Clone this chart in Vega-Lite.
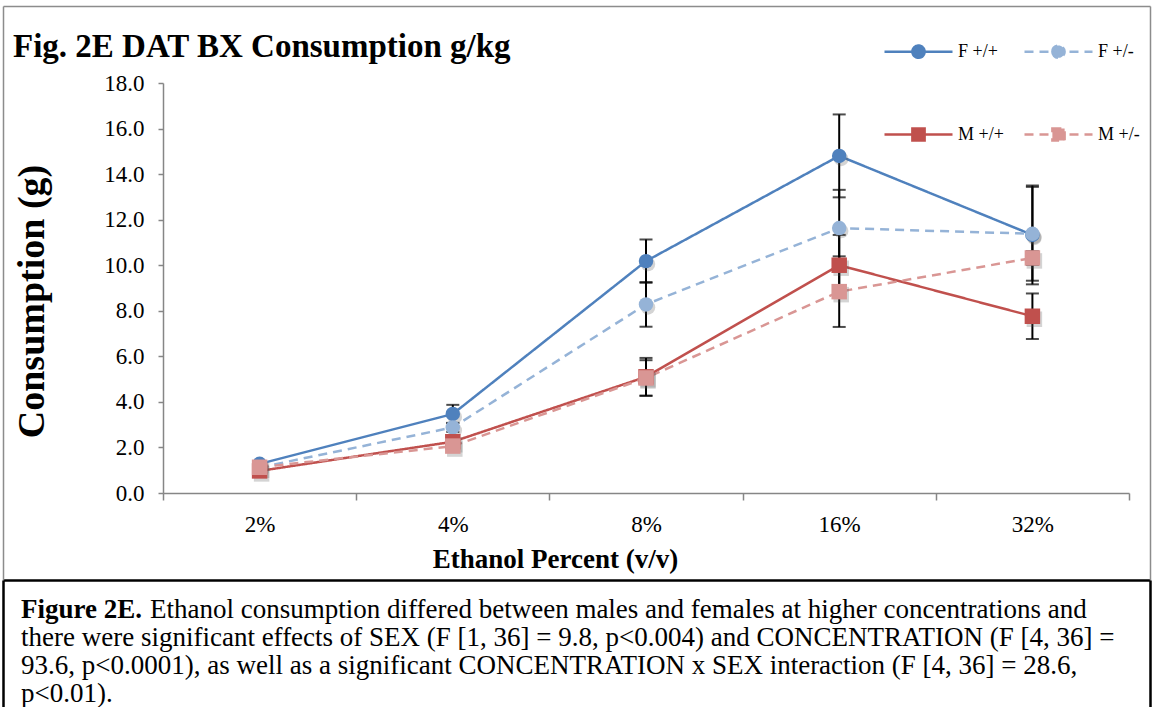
{
  "$schema": "https://vega.github.io/schema/vega-lite/v6.json",
  "background": "white",
  "padding": {"left": 3, "top": 6, "right": 0, "bottom": 0},
  "width": 966,
  "height": 410,
  "title": {
    "text": "Fig. 2E DAT BX Consumption g/kg",
    "anchor": "start",
    "frame": "group",
    "dx": -150,
    "font": "Liberation Serif",
    "fontSize": 33,
    "fontWeight": "bold",
    "color": "black",
    "offset": -58
  },
  "datasets": {
    "consumption": [
      {"conc": "2%", "series": "F +/+", "mean": 1.28, "se": 0.12},
      {"conc": "4%", "series": "F +/+", "mean": 3.47, "se": 0.40},
      {"conc": "8%", "series": "F +/+", "mean": 10.18, "se": 0.95},
      {"conc": "16%", "series": "F +/+", "mean": 14.8, "se": 1.82},
      {"conc": "32%", "series": "F +/+", "mean": 11.33, "se": 2.17},
      {"conc": "2%", "series": "F +/-", "mean": 1.12, "se": 0.1},
      {"conc": "4%", "series": "F +/-", "mean": 2.88, "se": 0.2},
      {"conc": "8%", "series": "F +/-", "mean": 8.28, "se": 0.98},
      {"conc": "16%", "series": "F +/-", "mean": 11.63, "se": 1.68},
      {"conc": "32%", "series": "F +/-", "mean": 11.38, "se": 2.06},
      {"conc": "2%", "series": "M +/+", "mean": 0.97, "se": 0.1},
      {"conc": "4%", "series": "M +/+", "mean": 2.25, "se": 0.15},
      {"conc": "8%", "series": "M +/+", "mean": 5.1, "se": 0.83},
      {"conc": "16%", "series": "M +/+", "mean": 10.0, "se": 1.33},
      {"conc": "32%", "series": "M +/+", "mean": 7.76, "se": 1.0},
      {"conc": "2%", "series": "M +/-", "mean": 1.13, "se": 0.1},
      {"conc": "4%", "series": "M +/-", "mean": 2.06, "se": 0.15},
      {"conc": "8%", "series": "M +/-", "mean": 5.05, "se": 0.78},
      {"conc": "16%", "series": "M +/-", "mean": 8.84, "se": 1.55},
      {"conc": "32%", "series": "M +/-", "mean": 10.32, "se": 0.3}
    ],
    "caption": [
      {"line": 1, "part": "bold", "text": "Figure 2E."},
      {"line": 1, "part": "first", "text": "Ethanol consumption differed between males and females at higher concentrations and"},
      {"line": 2, "part": "rest", "text": "there were significant effects of SEX (F [1, 36] = 9.8, p<0.004) and CONCENTRATION (F [4, 36] ="},
      {"line": 3, "part": "rest", "text": "93.6, p<0.0001), as well as a significant CONCENTRATION x SEX interaction (F [4, 36] = 28.6,"},
      {"line": 4, "part": "rest", "text": "p<0.01)."}
    ],
    "frame": [{"v": 0}]
  },
  "layer": [
    {
      "data": {"name": "consumption"},
      "encoding": {
        "x": {
          "field": "conc",
          "type": "ordinal",
          "sort": ["2%", "4%", "8%", "16%", "32%"],
          "scale": {"type": "band", "paddingInner": 0, "paddingOuter": 0},
          "axis": {
            "title": "Ethanol Percent (v/v)",
            "titleFont": "Liberation Serif",
            "titleFontSize": 27,
            "titleFontWeight": "bold",
            "titleColor": "black",
            "titleX": 392,
            "titlePadding": 10,
            "labelFont": "Liberation Serif",
            "labelFontSize": 23,
            "labelColor": "black",
            "labelAngle": 0,
            "labelPadding": 13,
            "tickBand": "extent",
            "tickSize": 7,
            "tickColor": "#868686",
            "tickWidth": 1.5,
            "domainColor": "#868686",
            "domainWidth": 1.5,
            "grid": false
          }
        },
        "y": {
          "field": "mean",
          "type": "quantitative",
          "scale": {"domain": [0, 18], "nice": false},
          "axis": {
            "title": "Consumption (g)",
            "titleFont": "Liberation Serif",
            "titleFontSize": 38,
            "titleFontWeight": "bold",
            "titleColor": "black",
            "titlePadding": 52,
            "titleY": 218,
            "values": [0, 2, 4, 6, 8, 10, 12, 14, 16, 18],
            "format": ".1f",
            "labelFont": "Liberation Serif",
            "labelFontSize": 23,
            "labelColor": "black",
            "labelPadding": 14,
            "tickSize": 5,
            "tickColor": "#868686",
            "tickWidth": 1.5,
            "domainColor": "#868686",
            "domainWidth": 1.5,
            "grid": false
          }
        }
      },
      "layer": [
        {
          "mark": {
            "type": "errorbar",
            "color": "black",
            "rule": {"strokeWidth": 2},
            "ticks": {"size": 13, "thickness": 2, "color": "black"}
          },
          "encoding": {
            "yError": {"field": "se"}
          }
        },
        {
          "mark": {"type": "line", "strokeWidth": 2.5},
          "encoding": {
            "color": {
              "field": "series",
              "type": "nominal",
              "scale": {
                "domain": ["F +/+", "F +/-", "M +/+", "M +/-"],
                "range": ["#4F81BD", "#95B3D7", "#C0504D", "#D99694"]
              },
              "legend": {
                "orient": "none",
                "legendX": 720,
                "legendY": -67,
                "direction": "horizontal",
                "columns": 2,
                "title": null,
                "padding": 0,
                "symbolType": "M-1,0H1",
                "symbolSize": 4624,
                "symbolStrokeWidth": 2.5,
                "labelFont": "Liberation Serif",
                "labelFontSize": 18,
                "labelColor": "black",
                "labelOffset": 4,
                "rowPadding": 36,
                "columnPadding": 15,
                "encode": {
                  "symbols": {
                    "update": {
                      "shape": {"signal": "indexof(datum.label, 'F') === 0 ? 'M-1,0H1M-0.18,0A0.18,0.18 0 1,0 0.18,0A0.18,0.18 0 1,0 -0.18,0Z' : 'M-1,0H1M-0.18,-0.18H0.18V0.18H-0.18Z'"},
                      "fill": {"scale": "color", "field": "value"},
                      "stroke": {"scale": "color", "field": "value"},
                      "strokeDash": {"signal": "indexof(datum.label, '/-') >= 0 ? [9, 6] : [1, 0]"},
                      "opacity": {"value": 1}
                    }
                  }
                }
              }
            },
            "strokeDash": {
              "field": "series",
              "type": "nominal",
              "scale": {
                "domain": ["F +/+", "F +/-", "M +/+", "M +/-"],
                "range": [[1, 0], [9, 6], [1, 0], [9, 6]]
              },
              "legend": null
            }
          }
        },
        {
          "transform": [{"filter": "indexof(datum.series, 'F') === 0"}],
          "mark": {"type": "point", "shape": "circle", "filled": true, "opacity": 0.25, "color": "#555555", "size": 210, "xOffset": 2, "yOffset": 3}
        },
        {
          "transform": [{"filter": "indexof(datum.series, 'M') === 0"}],
          "mark": {"type": "point", "shape": "square", "filled": true, "opacity": 0.25, "color": "#555555", "size": 240, "xOffset": 2, "yOffset": 3}
        },
        {
          "transform": [{"filter": "indexof(datum.series, 'F') === 0"}],
          "mark": {"type": "point", "shape": "circle", "filled": true, "opacity": 1, "size": 210},
          "encoding": {
            "color": {"field": "series", "type": "nominal", "legend": null}
          }
        },
        {
          "transform": [{"filter": "indexof(datum.series, 'M') === 0"}],
          "mark": {"type": "point", "shape": "square", "filled": true, "opacity": 1, "size": 240},
          "encoding": {
            "color": {"field": "series", "type": "nominal", "legend": null}
          }
        }
      ]
    },
    {
      "data": {"name": "frame"},
      "mark": {"type": "point", "opacity": 0},
      "encoding": {
        "x": {
          "datum": 0.5,
          "type": "quantitative",
          "scale": {"domain": [0, 1], "range": [-160, 987]},
          "axis": {"orient": "top", "offset": 77, "domainColor": "#8c8c8c", "domainWidth": 1.5, "ticks": false, "labels": false, "title": null, "grid": false}
        },
        "y": {
          "datum": 0.5,
          "type": "quantitative",
          "scale": {"domain": [0, 1], "range": [497, -77]},
          "axis": {"orient": "left", "offset": 160, "domainColor": "#8c8c8c", "domainWidth": 1.5, "ticks": false, "labels": false, "title": null, "grid": false}
        }
      }
    },
    {
      "data": {"name": "frame"},
      "mark": {"type": "point", "opacity": 0},
      "encoding": {
        "x": {
          "datum": 0.5,
          "type": "quantitative",
          "scale": {"domain": [0, 1], "range": [-160, 987]},
          "axis": null
        },
        "y": {
          "datum": 0.5,
          "type": "quantitative",
          "scale": {"domain": [0, 1], "range": [497, -77]},
          "axis": {"orient": "right", "offset": 21, "domainColor": "#8c8c8c", "domainWidth": 1.5, "ticks": false, "labels": false, "title": null, "grid": false}
        }
      }
    },
    {
      "data": {"name": "caption"},
      "transform": [{"filter": "datum.part === 'bold'"}],
      "mark": {"type": "text", "align": "left", "baseline": "middle", "dx": 18, "font": "Liberation Serif", "fontSize": 27, "fontWeight": "bold", "color": "black"},
      "encoding": {
        "x": {
          "datum": 0,
          "type": "quantitative",
          "scale": {"domain": [0, 1], "range": [-160, 987]},
          "axis": {"orient": "bottom", "offset": 87, "domainColor": "black", "domainWidth": 2.5, "ticks": false, "labels": false, "title": null, "grid": false}
        },
        "y": {
          "field": "line",
          "type": "quantitative",
          "scale": {"domain": [-0.0714, 4.893], "range": [497, 636]},
          "axis": {"orient": "left", "offset": 160, "domainColor": "black", "domainWidth": 2.5, "ticks": false, "labels": false, "title": null, "grid": false}
        },
        "text": {"field": "text"}
      }
    },
    {
      "data": {"name": "caption"},
      "transform": [{"filter": "datum.part === 'first'"}],
      "mark": {"type": "text", "align": "left", "baseline": "middle", "dx": 147, "font": "Liberation Serif", "fontSize": 27, "color": "black"},
      "encoding": {
        "x": {"datum": 0, "type": "quantitative", "scale": {"domain": [0, 1], "range": [-160, 987]}, "axis": null},
        "y": {"field": "line", "type": "quantitative", "scale": {"domain": [-0.0714, 4.893], "range": [497, 636]}, "axis": null},
        "text": {"field": "text"}
      }
    },
    {
      "data": {"name": "caption"},
      "transform": [{"filter": "datum.part === 'rest'"}],
      "mark": {"type": "text", "align": "left", "baseline": "middle", "dx": 18, "font": "Liberation Serif", "fontSize": 27, "color": "black"},
      "encoding": {
        "x": {"datum": 0, "type": "quantitative", "scale": {"domain": [0, 1], "range": [-160, 987]}, "axis": null},
        "y": {
          "field": "line",
          "type": "quantitative",
          "scale": {"domain": [-0.0714, 4.893], "range": [497, 636]},
          "axis": {"orient": "right", "offset": 21, "domainColor": "black", "domainWidth": 2.5, "ticks": false, "labels": false, "title": null, "grid": false}
        },
        "text": {"field": "text"}
      }
    }
  ],
  "resolve": {"scale": {"x": "independent", "y": "independent"}},
  "config": {
    "view": {"stroke": null}
  }
}
